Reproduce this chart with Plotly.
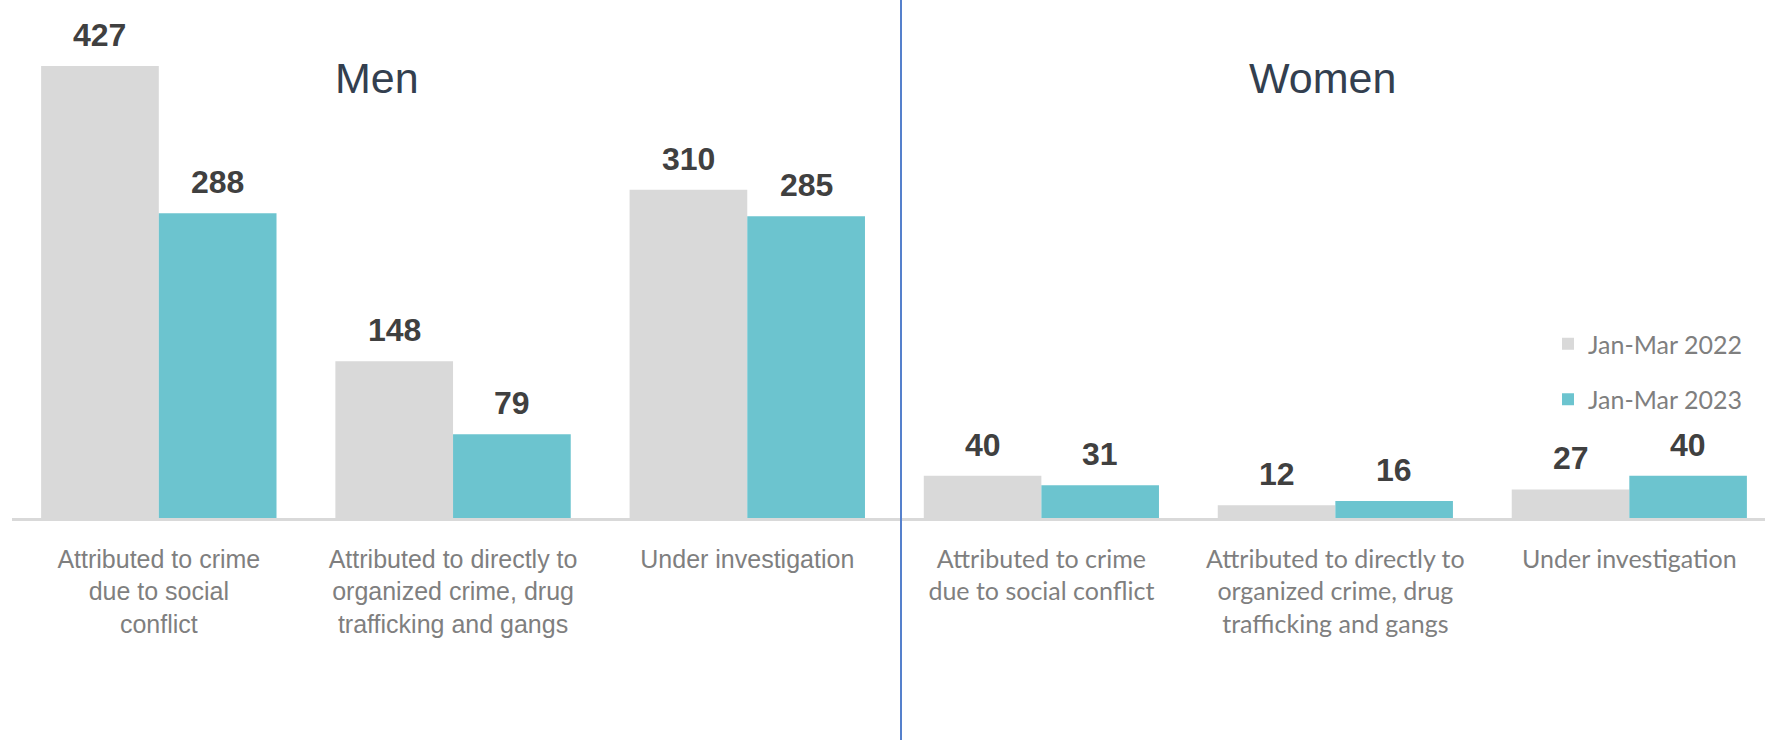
import plotly.graph_objects as go

# ---------------- data ----------------
series_names = ["Jan-Mar 2022", "Jan-Mar 2023"]
men_categories = [
    "Attributed to crime<br>due to social<br>conflict",
    "Attributed to directly to<br>organized crime, drug<br>trafficking and gangs",
    "Under investigation",
]
women_categories = [
    "Attributed to crime<br>due to social conflict",
    "Attributed to directly to<br>organized crime, drug<br>trafficking and gangs",
    "Under investigation",
]
men_2022 = [427, 148, 310]
men_2023 = [288, 79, 285]
women_2022 = [40, 12, 27]
women_2023 = [31, 16, 40]
panel_titles = ["Men", "Women"]

# ---------------- style ----------------
W, H = 1765, 740
GRAY = "#D9D9D9"
TEAL = "#6CC4CF"
LABEL_COLOR = "#404040"
TICK_COLOR = "#7F7F7F"
TITLE_COLOR = "#333F4F"
ARIAL = "Arial, Liberation Sans, sans-serif"
CALIBRI = "Lato, Open Sans, sans-serif"
BARGAP = 0.2

baseline_px = 518
px_per_unit = 452 / 427
ymax = baseline_px / px_per_unit
ydom0 = (H - baseline_px) / H

men_dom = [11.7 / W, 894.4 / W]
women_dom = [894.4 / W, 1.0]
women_range_end = (W - 1041.3) / 294.0

fig = go.Figure()

colors = [GRAY, TEAL]
men_vals = [men_2022, men_2023]
women_vals = [women_2022, women_2023]

for i, name in enumerate(series_names):
    fig.add_trace(go.Bar(
        x=men_categories, y=men_vals[i], name=name, marker_color=colors[i],
        marker_line_width=0, xaxis="x", yaxis="y", legendgroup=name,
        showlegend=True, hoverinfo="skip",
    ))
    fig.add_trace(go.Bar(
        x=women_categories, y=women_vals[i], name=name, marker_color=colors[i],
        marker_line_width=0, xaxis="x2", yaxis="y2", legendgroup=name,
        showlegend=False, hoverinfo="skip",
    ))

annotations = []
# value labels (centred over each bar of the group)
half = (1 - BARGAP) / 4
offsets = [-half, half]
for i in range(2):
    for j, v in enumerate(men_vals[i]):
        annotations.append(dict(
            x=j + offsets[i], y=v, xref="x", yref="y", text=f"<b>{v}</b>",
            showarrow=False, yanchor="bottom", yshift=11,
            font=dict(family=ARIAL, size=32, color=LABEL_COLOR)))
    for j, v in enumerate(women_vals[i]):
        annotations.append(dict(
            x=j + offsets[i], y=v, xref="x2", yref="y2", text=f"<b>{v}</b>",
            showarrow=False, yanchor="bottom", yshift=11,
            font=dict(family=ARIAL, size=32, color=LABEL_COLOR)))

# panel titles
for t, xc in zip(panel_titles, [376.7, 1322.5]):
    annotations.append(dict(
        x=xc / W, y=1 - 51.6 / H, xref="paper", yref="paper", text=t,
        showarrow=False, xanchor="center", yanchor="top",
        font=dict(family=ARIAL, size=43, color=TITLE_COLOR)))

axis_common = dict(
    showline=True, linecolor=GRAY, linewidth=2.6, ticks="",
    showgrid=False, zeroline=False, tickangle=0, fixedrange=True,
)

fig.update_layout(
    width=W, height=H,
    margin=dict(l=0, r=0, t=0, b=0),
    paper_bgcolor="white", plot_bgcolor="white",
    barmode="group", bargap=BARGAP, bargroupgap=0,
    xaxis=dict(domain=men_dom, anchor="y", range=[-0.5, 2.5],
               tickfont=dict(family=ARIAL, size=25, color=TICK_COLOR),
               ticklabelstandoff=17, **axis_common),
    xaxis2=dict(domain=women_dom, anchor="y2", range=[-0.5, women_range_end],
                tickfont=dict(family=CALIBRI, size=25, color=TICK_COLOR),
                ticklabelstandoff=17, **axis_common),
    yaxis=dict(domain=[ydom0, 1], range=[0, ymax], visible=False, fixedrange=True),
    yaxis2=dict(domain=[ydom0, 1], range=[0, ymax], visible=False, fixedrange=True,
                anchor="x2"),
    legend=dict(x=1548 / W, y=1 - 321 / H, xanchor="left", yanchor="top",
                font=dict(family=CALIBRI, size=25, color=TICK_COLOR),
                traceorder="grouped", tracegroupgap=20,
                bgcolor="rgba(0,0,0,0)"),
    annotations=annotations,
    shapes=[dict(type="line", xref="paper", yref="paper", x0=901 / W, x1=901 / W,
                 y0=0, y1=1, line=dict(color="#5580CC", width=2))],
    showlegend=True,
)

fig.write_html(
    "out.html",
    config={"displayModeBar": False},
    post_script="document.body.style.margin='0';document.body.style.overflow='hidden';",
)
